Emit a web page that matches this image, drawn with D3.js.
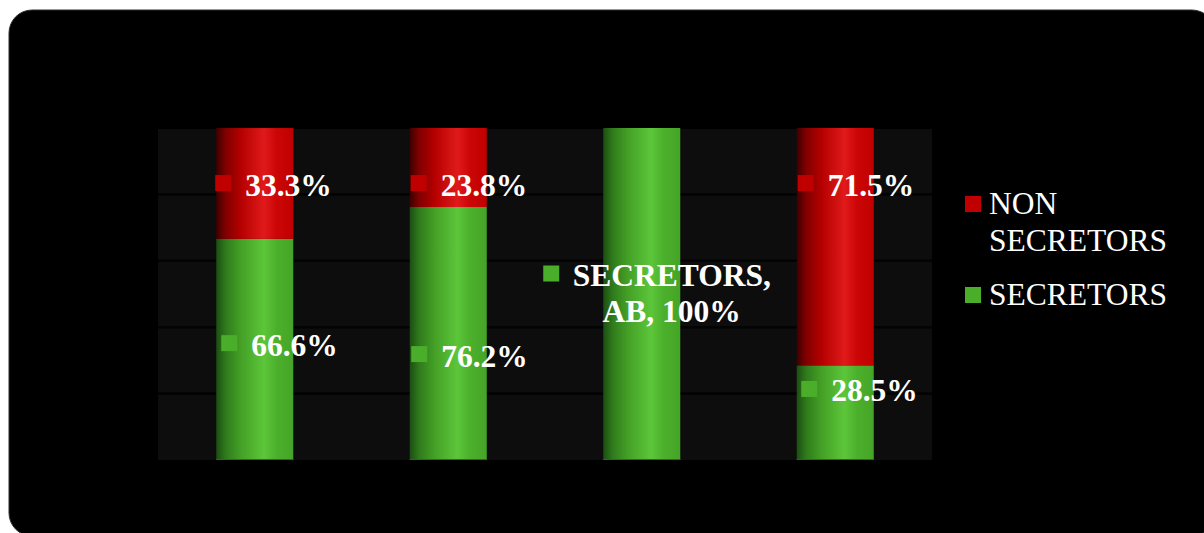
<!DOCTYPE html>
<html>
<head>
<meta charset="utf-8">
<script src="https://cdn.jsdelivr.net/npm/d3@7"></script>
<style>
  html, body { margin: 0; padding: 0; background: #ffffff; }
  svg { display: block; }
</style>
</head>
<body>
<svg id="chart" width="1204" height="533"></svg>
<script>
// Secretor status by blood group (100% stacked)
const categories = ["A", "B", "AB", "O"];
const seriesNames = ["SECRETORS", "NON SECRETORS"];
const secretors = [66.6, 76.2, 100, 28.5];
const nonSecretors = [33.3, 23.8, 0, 71.5];
const yTicks = [0, 20, 40, 60, 80, 100];

// Where each value label sits on the value axis (label anchors, in %)
const greenLabelAt = [35.2, 31.9, 50, 21.4];
const redLabelAt = [83.4, 83.4, null, 83.4];
// Horizontal nudge of each label relative to its bar's left edge (px)
const greenLabelNudge = [5, 1.5, -60, 4.5];
const redLabelNudge = [-1, 1, 0, 1];

const svg = d3.select("#chart");
const plot = { left: 158, right: 932, top: 128, bottom: 460 };
const font = "'Liberation Serif', 'Times New Roman', serif";
const fs = 31.5;

// Background card
svg.append("rect")
  .attr("x", 9).attr("y", 10)
  .attr("width", 1206).attr("height", 526)
  .attr("rx", 23).attr("ry", 23)
  .attr("fill", "#000000")
  .attr("stroke", "#2e2e2e").attr("stroke-width", 1);

// Gradients giving the bars a cylindrical look
const defs = svg.append("defs");
function cyl(id, stops) {
  const g = defs.append("linearGradient").attr("id", id)
    .attr("x1", "0%").attr("x2", "100%").attr("y1", "0%").attr("y2", "0%");
  stops.forEach(([o, c]) => g.append("stop").attr("offset", o).attr("stop-color", c));
}
cyl("gRed", [["0%", "#3e0000"], ["12%", "#800000"], ["32%", "#b50000"], ["62%", "#e01a1a"], ["78%", "#cc0606"], ["100%", "#c00000"]]);
cyl("gGreen", [["0%", "#1c4e12"], ["12%", "#2f7a1c"], ["32%", "#44a026"], ["62%", "#5cc63a"], ["78%", "#4cb02c"], ["100%", "#45a427"]]);

const x = d3.scaleBand()
  .domain(categories)
  .range([plot.left, plot.right])
  .paddingInner(0.602)
  .paddingOuter(0.301);

const y = d3.scaleLinear()
  .domain([0, 100])
  .range([plot.bottom, plot.top]);

// Plot area and gridlines
svg.append("rect")
  .attr("x", plot.left).attr("y", plot.top + 1)
  .attr("width", plot.right - plot.left)
  .attr("height", plot.bottom - plot.top - 1)
  .attr("fill", "#0d0d0d");

svg.append("g")
  .selectAll("line")
  .data(yTicks.slice(1, -1))
  .join("line")
  .attr("x1", plot.left).attr("x2", plot.right)
  .attr("y1", d => y(d)).attr("y2", d => y(d))
  .attr("stroke", "#030303").attr("stroke-width", 2.6);

// Stacked bars
const rows = categories.map((c, i) => ({ cat: c, SECRETORS: secretors[i], "NON SECRETORS": nonSecretors[i] }));
const stack = d3.stack().keys(seriesNames)(rows);
const fills = { "SECRETORS": "url(#gGreen)", "NON SECRETORS": "url(#gRed)" };
const solid = { "SECRETORS": "#4aae2a", "NON SECRETORS": "#c00000" };
const edge = { "SECRETORS": "#2c6a1a", "NON SECRETORS": "#8a0000" };

stack.forEach(layer => {
  svg.append("g")
    .selectAll("rect")
    .data(layer.filter(d => d[1] - d[0] > 0))
    .join("rect")
    .attr("x", d => x(d.data.cat))
    .attr("width", x.bandwidth())
    .attr("y", d => y(d[1]))
    .attr("height", d => y(d[0]) - y(d[1]))
    .attr("fill", fills[layer.key]);
});

// Extend the top segment where rounded values total slightly under 100%
svg.append("g")
  .selectAll("rect")
  .data(categories.map((c, i) => ({ c, t: secretors[i] + nonSecretors[i] })).filter(d => d.t < 100))
  .join("rect")
  .attr("x", d => x(d.c)).attr("width", x.bandwidth())
  .attr("y", y(100)).attr("height", d => y(d.t) - y(100) + 0.5)
  .attr("fill", "url(#gRed)");

// Darker rim along the base of each bar
svg.append("g")
  .selectAll("line")
  .data(categories)
  .join("line")
  .attr("x1", d => x(d)).attr("x2", d => x(d) + x.bandwidth())
  .attr("y1", y(0) - 0.5).attr("y2", y(0) - 0.5)
  .attr("stroke", edge["SECRETORS"]).attr("stroke-width", 1);

// Value labels with legend key markers
function label(i, val, at, nudge, color) {
  const left = x(categories[i]) + nudge;
  const cy = y(at);
  const g = svg.append("g");
  g.append("rect")
    .attr("x", left).attr("y", cy - 8)
    .attr("width", 16).attr("height", 16)
    .attr("fill", color);
  g.append("text")
    .attr("x", left + 30).attr("y", cy + 12.5)
    .attr("font-family", font).attr("font-weight", "bold")
    .attr("font-size", fs).attr("fill", "#ffffff")
    .text(d3.format(".1f")(val) + "%");
}

categories.forEach((c, i) => {
  if (redLabelAt[i] !== null && nonSecretors[i] > 0) {
    label(i, nonSecretors[i], redLabelAt[i], redLabelNudge[i], solid["NON SECRETORS"]);
  }
  if (secretors[i] >= 100) {
    // Full bar: label carries series and category names
    const left = x(c) + greenLabelNudge[i];
    const cy = y(greenLabelAt[i]);
    svg.append("rect")
      .attr("x", left).attr("y", cy - 28.5)
      .attr("width", 16).attr("height", 16)
      .attr("fill", solid["SECRETORS"]);
    const t = svg.append("text")
      .attr("font-family", font).attr("font-weight", "bold")
      .attr("font-size", fs).attr("fill", "#ffffff")
      .attr("text-anchor", "middle");
    const cx = x(c) + x.bandwidth() / 2 + 30;
    t.append("tspan").attr("x", cx).attr("y", cy - 8.5).text(seriesNames[0] + ",");
    t.append("tspan").attr("x", cx).attr("y", cy + 27.5).text(c + ", " + d3.format(".0f")(secretors[i]) + "%");
  } else {
    label(i, secretors[i], greenLabelAt[i], greenLabelNudge[i], solid["SECRETORS"]);
  }
});

// Legend
const legend = svg.append("g").attr("transform", "translate(965,0)");
const legendItems = [
  { lines: ["NON", "SECRETORS"], color: solid["NON SECRETORS"], top: 196 },
  { lines: ["SECRETORS"], color: solid["SECRETORS"], top: 287 }
];
legendItems.forEach(it => {
  legend.append("rect")
    .attr("x", 0).attr("y", it.top)
    .attr("width", 16).attr("height", 16)
    .attr("fill", it.color);
  const t = legend.append("text")
    .attr("font-family", font).attr("font-size", fs)
    .attr("fill", "#ffffff");
  it.lines.forEach((ln, k) => {
    t.append("tspan").attr("x", 24).attr("y", it.top + 18 + k * 36.5).text(ln);
  });
});
</script>
</body>
</html>
